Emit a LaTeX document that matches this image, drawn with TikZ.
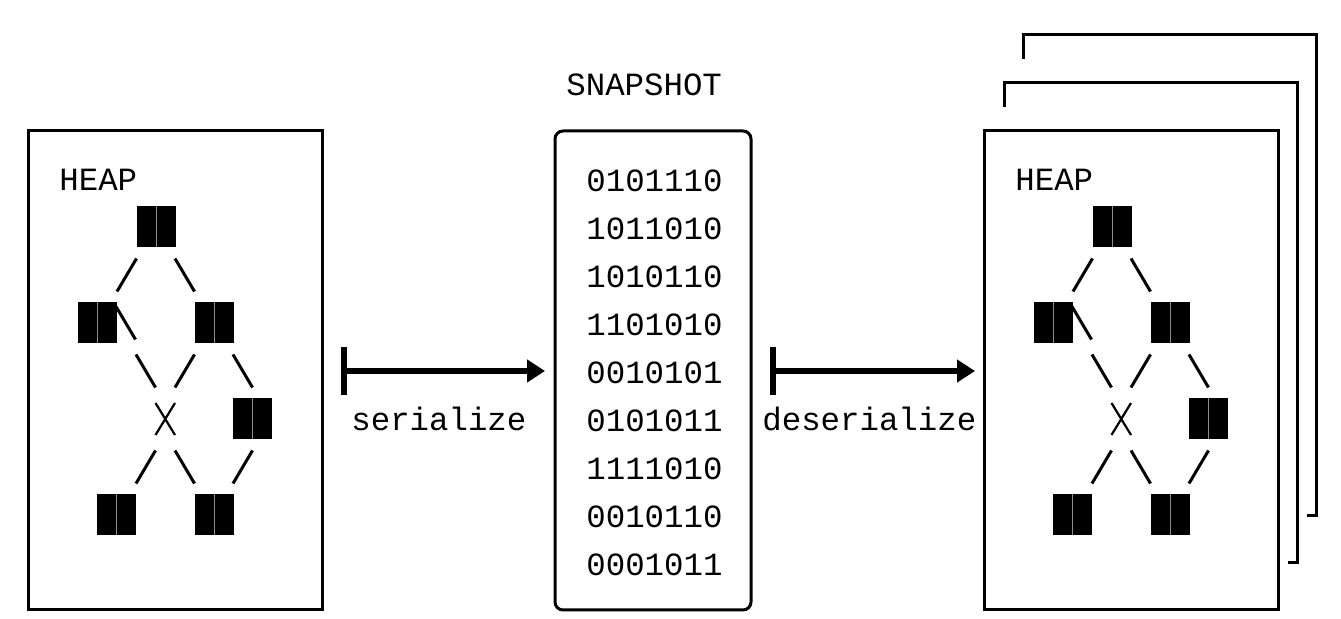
\documentclass[tikz,border=0pt]{standalone}
\usepackage{fontspec}
\setmonofont{Liberation Mono}
\usetikzlibrary{arrows.meta}
\newcommand{\gridfont}{\ttfamily\fontsize{16.2}{19}\selectfont}

\begin{document}
\begin{tikzpicture}[x=0.5pt, y=-0.5pt,
  txt/.style={font=\gridfont, inner sep=0pt, anchor=base west},
  frame/.style={draw=black, line width=1.5pt, inner sep=0pt},
  blk/.style={fill=black, inner sep=0pt, minimum width=19.5pt, minimum height=20.5pt,
              path picture={\draw[black!45, line width=0.3pt] (path picture bounding box.north) -- (path picture bounding box.south);}},
  link/.style={line width=1.5pt},
  ar/.style={{Bar[width=24pt]}-{Triangle[length=9pt, width=11pt]}, line width=2.75pt}]
\useasboundingbox (0,0) rectangle (1341,619);
% heap before and after
\foreach \dx/\s in {0/L,956/R}{
  \begin{scope}[shift={(\dx,0)}]
  \node[frame, minimum width=147pt, minimum height=239.5pt] (heap\s) at (175,370.5) {};
  \node[txt] (heaplbl\s) at (59,191) {HEAP};
  \foreach \n/\x/\y in {1/156/227, 2/97/323, 3/214/323, 4/252.5/419, 5/116/515, 6/214/515}
    \node[blk] (\s\n) at (\x,\y) {};
  \foreach \x/\y in {117/275, 175/371, 136/467, 233/467}
    \draw[link] (\x,\y+16.5) -- (\x+19.5,\y-16.5);
  \foreach \x/\y in {175/275, 116/323, 136/371, 233/371, 175/467}
    \draw[link] (\x,\y-16.5) -- (\x+19.5,\y+16.5);
  \draw[line width=1.1pt] (155.5,403) -- (175,435) (155.5,435) -- (175,403);
  \end{scope}
}
% copies stacked behind
\draw[frame] (1004,107) |- (1297,83) |- (1288,563);
\draw[frame] (1023,59) |- (1316,35) |- (1307,516);
% snapshot
\node[frame, rounded corners=4pt, minimum width=98pt, minimum height=239.5pt] (snap) at (653,370.5) {};
\node[txt] (snaplbl) at (566,96) {SNAPSHOT};
\foreach \bits [count=\i from 0] in {0101110,1011010,1010110,1101010,0010101,0101011,1111010,0010110,0001011}
  \node[txt] (bits\i) at (586,192+48*\i) {\bits};
% arrows
\coordinate (ser1) at (341,371);
\coordinate (ser2) at (545,371);
\draw[ar] (ser1) -- (ser2);
\node[txt] (serlbl) at (351,431) {serialize};
\coordinate (des1) at (770,371);
\coordinate (des2) at (975,371);
\draw[ar] (des1) -- (des2);
\node[txt] (deslbl) at (762,431) {deserialize};
\end{tikzpicture}
\end{document}
